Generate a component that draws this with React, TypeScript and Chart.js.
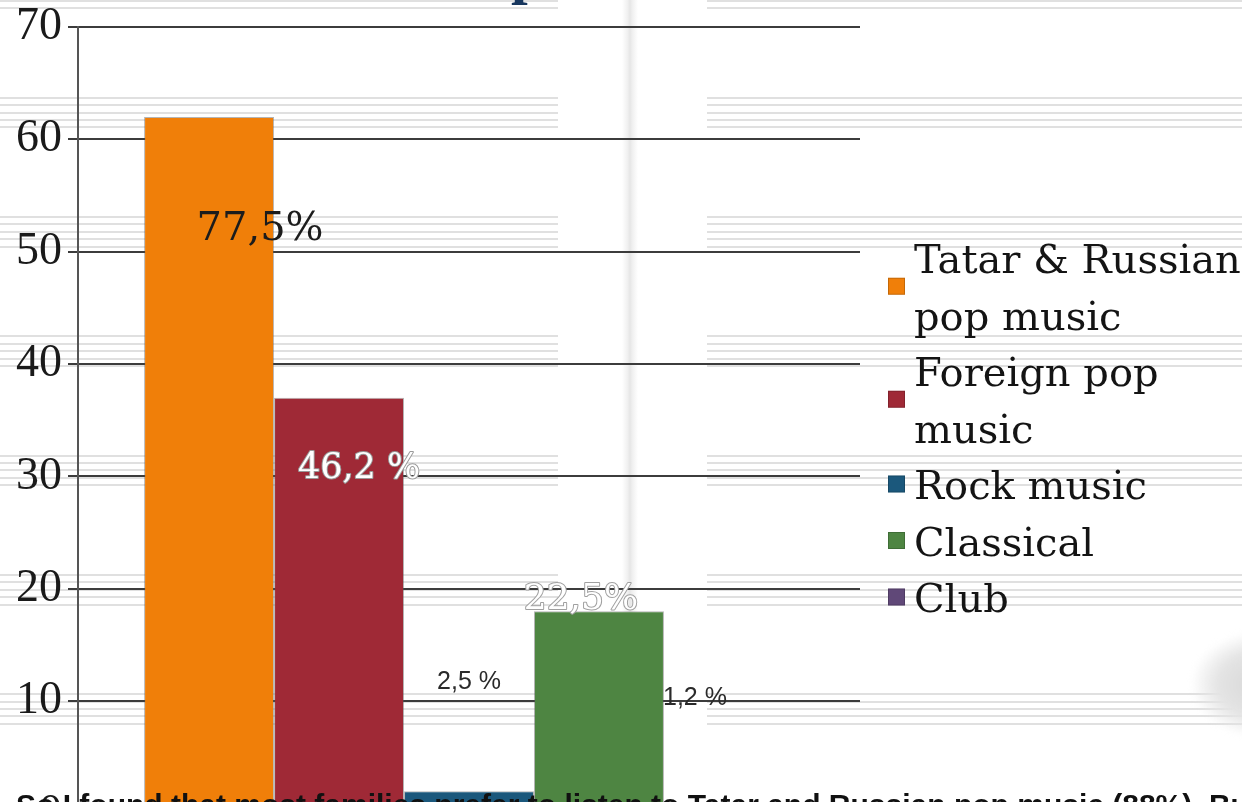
import React, { useEffect, useRef } from 'react';
import { Chart, registerables } from 'chart.js';

Chart.register(...registerables);

// ---------- data ----------
const categories = ['Music preferences'];
const seriesNames = ['Tatar & Russian pop music', 'Foreign pop music', 'Rock music', 'Classical', 'Club'];
const seriesValues = [62, 37, 2, 18, 1];
const valueLabels = ['77,5%', '46,2 %', '2,5 %', '22,5%', '1,2 %'];
const seriesColors = ['#F07F09', '#9F2936', '#1B587C', '#4E8542', '#604878'];
const yMin = 0;
const yMax = 70;
const yStep = 10;
const footerText = 'So I found that most families prefer to listen to Tatar and Russian pop music (88%). But some of them like other styles too.';

// ---------- styles ----------
const labelStyles = [
  { dx: 51, dy: 123, font: '40px "DejaVu Serif"', fill: '#1c1c1c', stroke: '' },
  { dx: 20, dy: 80, font: '35px "DejaVu Serif"', fill: '#ffffff', stroke: '#9a9a9a' },
  { dx: 0, dy: -102, font: '25px "Liberation Sans"', fill: '#2a2a2a', stroke: '' },
  { dx: -18, dy: -2, font: '36px "DejaVu Serif"', fill: '#ffffff', stroke: '#a0a0a0' },
  { dx: -34, dy: -97, font: '25px "Liberation Sans"', fill: '#2a2a2a', stroke: '' },
];

function wrapText(ctx: CanvasRenderingContext2D, text: string, maxW: number): string[] {
  const words = text.split(' ');
  const lines: string[] = [];
  let cur = '';
  for (const w of words) {
    const test = cur ? cur + ' ' + w : w;
    if (cur && ctx.measureText(test).width > maxW) {
      lines.push(cur);
      cur = w;
    } else {
      cur = test;
    }
  }
  if (cur) lines.push(cur);
  return lines;
}

const valueLabelPlugin = {
  id: 'valueLabels',
  afterDatasetsDraw(chart: any) {
    const ctx: CanvasRenderingContext2D = chart.ctx;
    ctx.save();
    chart.data.datasets.forEach((ds: any, i: number) => {
      const meta = chart.getDatasetMeta(i);
      const el = meta.data[0];
      if (!el) return;
      const st = labelStyles[i];
      const x = el.x + st.dx;
      const y = el.y + st.dy;
      ctx.font = st.font;
      ctx.textAlign = 'center';
      ctx.textBaseline = 'alphabetic';
      if (st.stroke) {
        ctx.lineWidth = 2;
        ctx.strokeStyle = st.stroke;
        ctx.lineJoin = 'round';
        ctx.strokeText(valueLabels[i], x, y);
      }
      ctx.fillStyle = st.fill;
      ctx.fillText(valueLabels[i], x, y);
    });
    ctx.restore();
  },
};

const sideLegendPlugin = {
  id: 'sideLegend',
  afterDraw(chart: any) {
    const ctx: CanvasRenderingContext2D = chart.ctx;
    ctx.save();
    ctx.font = '40px "DejaVu Serif"';
    ctx.textAlign = 'left';
    ctx.textBaseline = 'alphabetic';
    const textX = 914;
    const boxX = 888;
    const box = 17;
    const lineH = 56.5;
    const maxW = 340;
    let baseline = 273;
    chart.data.datasets.forEach((ds: any) => {
      const lines = wrapText(ctx, ds.label, maxW);
      const first = baseline;
      lines.forEach((ln, k) => {
        ctx.fillStyle = '#141414';
        ctx.fillText(ln, textX, baseline + k * lineH);
      });
      const last = baseline + (lines.length - 1) * lineH;
      const cy = (first + last) / 2 - 15;
      ctx.fillStyle = ds.backgroundColor;
      ctx.fillRect(boxX, cy - box / 2, box, box);
      ctx.strokeStyle = 'rgba(0,0,0,0.18)';
      ctx.lineWidth = 1;
      ctx.strokeRect(boxX + 0.5, cy - box / 2 + 0.5, box - 1, box - 1);
      baseline = last + lineH;
    });
    ctx.restore();
  },
};

function ChartCanvas() {
  const ref = useRef<HTMLCanvasElement | null>(null);
  useEffect(() => {
    if (!ref.current) return;
    const chart = new Chart(ref.current, {
      type: 'bar',
      data: {
        labels: categories,
        datasets: seriesNames.map((name, i) => ({
          label: name,
          data: [seriesValues[i]],
          backgroundColor: seriesColors[i],
          borderColor: 'rgba(90,90,90,0.45)',
          borderWidth: 1,
          categoryPercentage: 0.831,
          barPercentage: 1,
        })),
      },
      options: {
        responsive: true,
        maintainAspectRatio: false,
        animation: false,
        layout: { padding: { top: 27, bottom: 36.4, left: 0, right: 382 } },
        plugins: {
          legend: { display: false },
          tooltip: { enabled: false },
          title: { display: false },
        },
        scales: {
          x: { display: false },
          y: {
            min: yMin,
            max: yMax,
            afterFit(scale: any) {
              scale.width = 78;
            },
            ticks: {
              stepSize: yStep,
              padding: 6,
              color: '#1a1a1a',
              font: { family: '"Liberation Serif"', size: 46, lineHeight: 0.85 },
            },
            grid: {
              color: '#3c3c3c',
              lineWidth: 2,
              tickLength: 10,
              tickColor: '#3c3c3c',
            },
            border: { display: true, color: '#555555', width: 2 },
          },
        },
      },
      plugins: [valueLabelPlugin, sideLegendPlugin],
    });
    return () => chart.destroy();
  }, []);
  return <canvas ref={ref} />;
}

export default function App() {
  const staffGroups: number[] = [];
  for (let k = -1; k <= 6; k++) staffGroups.push(96.7 + k * 119.3);
  const staffLines: React.ReactElement[] = [];
  staffGroups.forEach((g, gi) => {
    for (let j = 0; j < 5; j++) {
      const top = g + j * 7.4;
      staffLines.push(
        <div key={`a${gi}-${j}`} style={{ position: 'absolute', left: 0, top, width: 558, height: 2, background: '#e0e0e0' }} />,
      );
      staffLines.push(
        <div key={`b${gi}-${j}`} style={{ position: 'absolute', left: 707, top, width: 535, height: 2, background: '#e0e0e0' }} />,
      );
    }
  });
  return (
    <div
      style={{
        position: 'fixed',
        left: 0,
        top: 0,
        width: 1242,
        height: 802,
        overflow: 'hidden',
        background: '#ffffff',
      }}
    >
      {staffLines}
      <div
        style={{
          position: 'absolute',
          left: 622,
          top: 0,
          width: 16,
          height: 802,
          background: 'linear-gradient(to right, rgba(255,255,255,0), #f0f0f0 35%, #e6e6e6 50%, #f0f0f0 65%, rgba(255,255,255,0))',
        }}
      />
      <div
        style={{
          position: 'absolute',
          left: 1192,
          top: 632,
          width: 130,
          height: 105,
          borderRadius: '50%',
          background: 'radial-gradient(ellipse at 55% 50%, #d6d6d6 0%, #e4e4e4 45%, rgba(255,255,255,0) 72%)',
          filter: 'blur(3px)',
        }}
      />
      <div
        style={{
          position: 'absolute',
          left: 511,
          top: -58,
          fontFamily: '"Liberation Serif", serif',
          fontWeight: 'bold',
          fontSize: 60,
          lineHeight: '60px',
          color: '#17375E',
        }}
      >
        p
      </div>
      <div style={{ position: 'absolute', left: 0, top: 0, width: 1242, height: 850 }}>
        <ChartCanvas />
      </div>
      <div
        style={{
          position: 'absolute',
          left: 16,
          top: 788,
          whiteSpace: 'nowrap',
          fontFamily: '"Liberation Sans", sans-serif',
          fontWeight: 'bold',
          fontSize: 30,
          lineHeight: '33px',
          color: '#111111',
        }}
      >
        {footerText}
      </div>
    </div>
  );
}
